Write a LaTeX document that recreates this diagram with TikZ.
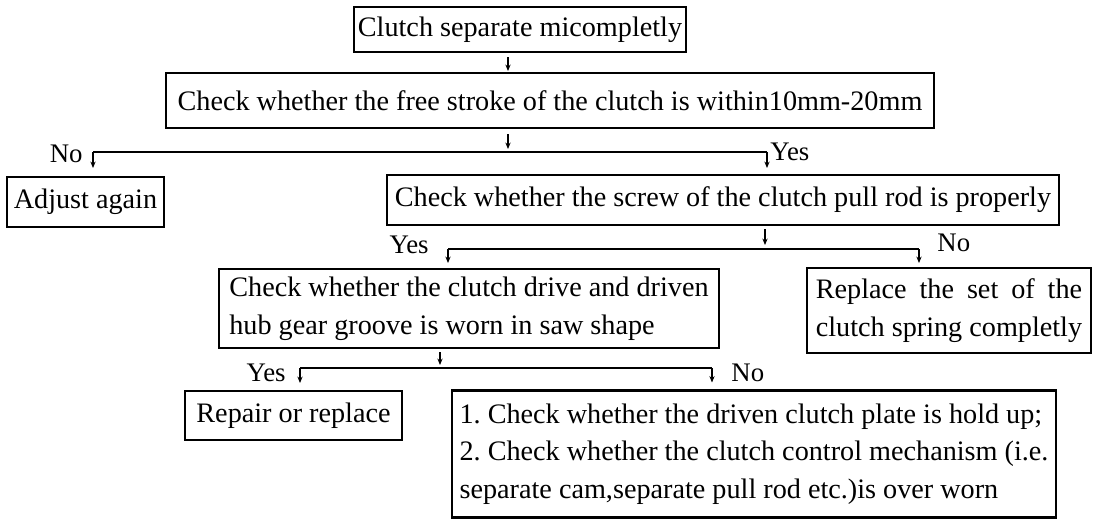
\documentclass[tikz,border=0pt]{standalone}
\usepackage{fontspec}
\setmainfont{Liberation Serif}
\usepackage{calc}
\usepackage{tikz}
\usetikzlibrary{
    arrows.meta,
    positioning,
    calc
}
\frenchspacing
\newcommand{\boxfont}{\fontsize{14.1pt}{18.8pt}\selectfont}

\begin{document}
\begin{tikzpicture}[
    x=0.5pt, y=-0.5pt,
    box/.style={
        rectangle,
        draw=black,
        line width=1.1pt,
        inner xsep=2pt,
        inner ysep=2pt,
        outer sep=0pt,
        align=center,
        font=\boxfont
    },
    tag/.style={
        inner sep=0pt,
        font=\fontsize{13.4pt}{16pt}\selectfont
    },
    line/.style={line width=0.75pt},
    arrow/.style={-{Stealth[length=3.2pt,width=2.6pt]}, line width=0.75pt}
]
\useasboundingbox (0,0) rectangle (1094,520);

% Fault and first check
\node[box, minimum width=164pt, minimum height=22.5pt] (fault) at (520,29.5) {Clutch separate micompletly};
\node[box, minimum width=384pt, minimum height=27.5pt] (stroke) at (550,100.5) {Check whether the free stroke of the clutch is within10mm-20mm};

% Second level
\node[box, minimum width=78.5pt, minimum height=25pt] (adjust) at (85.5,202) {Adjust again};
\node[box, minimum width=336pt, minimum height=25pt] (screw) at (723,200) {Check whether the screw of the clutch pull rod is properly};

% Third level
\node[box, align=left, minimum width=250pt, minimum height=39.5pt] (hub) at (469,308.5) {Check whether the clutch drive and driven\\hub gear groove is worn in saw shape};
\node[box, minimum width=142pt, minimum height=42.5pt] (spring) at (949,310.5) {\makebox[\widthof{clutch spring completly}][s]{Replace the set of the}\\clutch spring completly};

% Fourth level
\node[box, align=left, minimum width=108.5pt, minimum height=24.5pt] (repair) at (293.5,415.5) {Repair or replace};
\node[box, align=left, minimum width=302pt, minimum height=63.5pt] (plate) at (754,454) {1. Check whether the driven clutch plate is hold up;\\2. Check whether the clutch control mechanism (i.e.\\separate cam,separate pull rod etc.)is over worn};

% Branch points
\coordinate (j1) at (508,152);
\coordinate (j1l) at (93,152);
\coordinate (j1r) at (767,152);
\coordinate (j2) at (765,249);
\coordinate (j2l) at (448,249);
\coordinate (j2r) at (919,249);
\coordinate (j3) at (440,368);
\coordinate (j3l) at (300,368);
\coordinate (j3r) at (712,368);

% Labels
\node[tag, anchor=east] (no1) at (83,154) {No};
\node[tag, anchor=west] (yes1) at (770,152) {Yes};
\node[tag, anchor=east] (yes2) at (429,245) {Yes};
\node[tag, anchor=west] (no2) at (937,243) {No};
\node[tag, anchor=east] (yes3) at (286,373) {Yes};
\node[tag, anchor=west] (no3) at (731,373) {No};

% Arrows
\draw[arrow, shorten <=2.5pt, shorten >=1pt] (fault.south -| j1) -- (stroke.north -| j1);
\draw[arrow, shorten <=3pt, shorten >=1.5pt] (stroke.south -| j1) -- (j1);
\draw[line] (j1l) -- (j1r);
\draw[arrow, shorten >=4.5pt] (j1l) -- (j1l |- adjust.north);
\draw[arrow, shorten >=3.5pt] (j1r) -- (j1r |- screw.north);

\draw[arrow, shorten <=2pt, shorten >=2pt] (screw.south -| j2) -- (j2);
\draw[line] (j2l) -- (j2r);
\draw[arrow, shorten >=3pt] (j2l) -- (j2l |- hub.north);
\draw[arrow, shorten >=2.5pt] (j2r) -- (j2r |- spring.north);

\draw[arrow, shorten <=2pt, shorten >=1.5pt] (hub.south -| j3) -- (j3);
\draw[line] (j3l) -- (j3r);
\draw[arrow, shorten >=4pt] (j3l) -- (j3l |- repair.north);
\draw[arrow, shorten >=4pt] (j3r) -- (j3r |- plate.north);

\end{tikzpicture}
\end{document}
